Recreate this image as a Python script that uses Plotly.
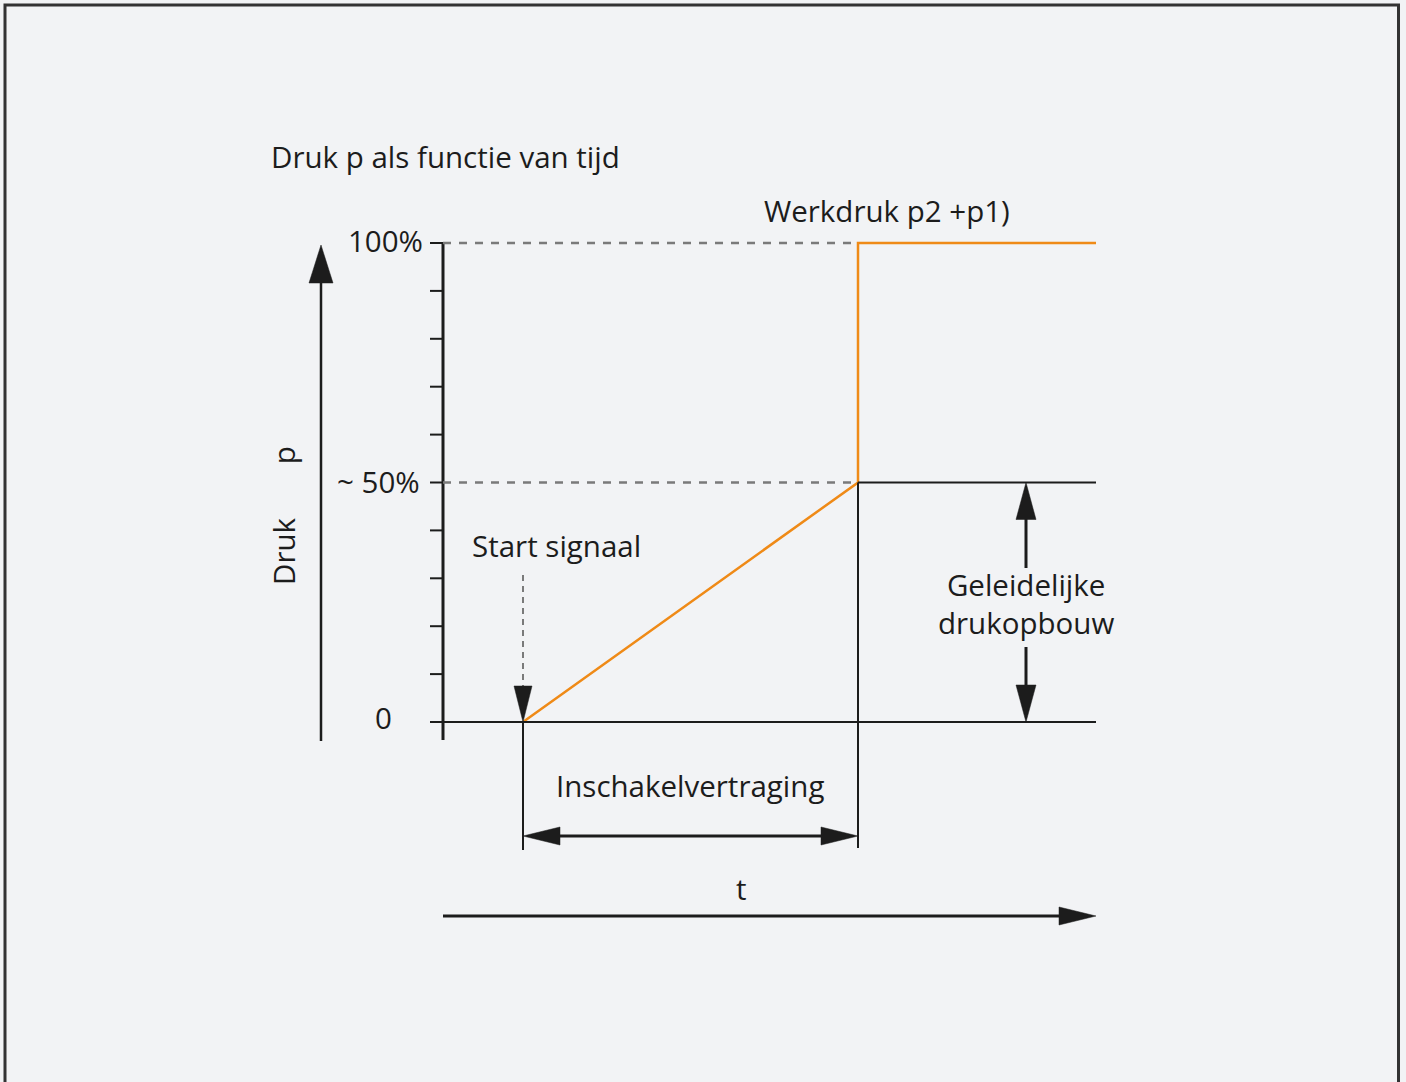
import plotly.graph_objects as go

# ---- data ----
tijd_curve = [1.0, 5.1875, 5.1875, 8.1625]     # start signaal, omschakeling, einde
druk_curve = [0, 50, 100, 100]                  # % werkdruk
tick_vals = [0, 10, 20, 30, 40, 50, 60, 70, 80, 90, 100]
tick_labels = {0: "0", 50: "~ 50%", 100: "100%"}
t_start, t_switch, t_end = 1.0, 5.1875, 8.1625

# ---- geometry (pixel scale) ----
W, H = 1406, 1082
X0PX, PXX = 443, 80.0          # t=0 at x=443, 80 px per unit
Y0PX, PXY = 722, 4.79          # p=0 at y=722, 4.79 px per %
def dx(px): return px / PXX
def dy(px): return px / PXY

INK = "#1c1c1c"
ORANGE = "#ef8a17"
GREY = "#7a7a7a"
FONT = "Open Sans"
FS = 29.5

fig = go.Figure()
shapes = []
ann = []

def line(x0, y0, x1, y1, color=INK, width=2, dash="solid"):
    shapes.append(dict(type="line", xref="x", yref="y", x0=x0, y0=y0, x1=x1, y1=y1,
                       line=dict(color=color, width=width, dash=dash)))

def head(tx, ty, direction, length=36, half=9):
    if direction == "up":
        pts = [(tx, ty), (tx - dx(half), ty - dy(length)), (tx + dx(half), ty - dy(length))]
    elif direction == "down":
        pts = [(tx, ty), (tx - dx(half), ty + dy(length)), (tx + dx(half), ty + dy(length))]
    elif direction == "left":
        pts = [(tx, ty), (tx + dx(length), ty + dy(half)), (tx + dx(length), ty - dy(half))]
    else:
        pts = [(tx, ty), (tx - dx(length), ty + dy(half)), (tx - dx(length), ty - dy(half))]
    path = "M " + " L ".join(f"{x},{y}" for x, y in pts) + " Z"
    shapes.append(dict(type="path", xref="x", yref="y", path=path,
                       fillcolor=INK, line=dict(color=INK, width=0.5)))

def text(xpx, ypx, s, xanchor="center", size=FS, angle=0):
    ann.append(dict(x=dx(xpx - X0PX), y=dy(Y0PX - ypx), xref="x", yref="y", text=s,
                    showarrow=False, xanchor=xanchor, yanchor="middle", textangle=angle,
                    font=dict(family=FONT, size=size, color=INK)))

# border
shapes.append(dict(type="rect", xref="paper", yref="paper",
                   x0=5 / W, x1=1398.5 / W, y0=-0.02, y1=1 - 5 / H,
                   line=dict(color="#333333", width=3), fillcolor="rgba(0,0,0,0)"))

# y axis line and ticks
line(0, 100, 0, -dy(18), width=3)
for v in tick_vals:
    line(-dx(13), v, 0, v, width=2)
# baseline
line(-dx(13), 0, t_end, 0, width=2)
# dashed reference lines
line(0, 100, t_switch, 100, color=GREY, width=2.5, dash="8px,8px")
line(0, 50, t_switch, 50, color=GREY, width=2.5, dash="8px,8px")
# 50% continuation
line(t_switch, 50, t_end, 50, width=2)
# vertical markers
line(t_start, 0, t_start, -dy(128), width=2)
line(t_switch, 50, t_switch, -dy(126), width=2)

# start signal dashed arrow
line(t_start, dy(147), t_start, dy(36), color=GREY, width=2, dash="6px,5px")
head(t_start, 0, "down", length=36, half=9)

# delay double arrow
ydel = -dy(836 - Y0PX)
line(t_start + dx(30), ydel, t_switch - dx(30), ydel, width=3)
head(t_start, ydel, "left", 37, 9)
head(t_switch, ydel, "right", 37, 9)

# gradual pressure double arrow
xg = dx(1026 - X0PX)
line(xg, 50 - dy(30), xg, dy(722 - 568), width=3)
line(xg, dy(722 - 647), xg, dy(30), width=3)
head(xg, 50, "up", 37, 10)
head(xg, 0, "down", 37, 10)

# left pressure arrow
xp = -dx(X0PX - 321)
line(xp, -dy(741 - Y0PX), xp, 100 - dy(30), width=2.5)
head(xp, dy(Y0PX - 245), "up", 38, 12)

# time arrow
yt = -dy(916 - Y0PX)
line(0, yt, t_end - dx(30), yt, width=3)
head(t_end, yt, "right", 37, 9)

# pressure curve
fig.add_trace(go.Scatter(x=tijd_curve, y=druk_curve, mode="lines",
                         line=dict(color=ORANGE, width=2.5), hoverinfo="skip",
                         showlegend=False))

# texts (pixel positions of label centres)
text(269, 156, "Druk p als functie van tijd", xanchor="left")
text(887, 210, "Werkdruk p2 +p1)")
text(425, 240, tick_labels[100], xanchor="right")
text(422, 481, tick_labels[50], xanchor="right")
text(383, 717, tick_labels[0])
text(470, 545, "Start signaal", xanchor="left")
text(690, 785, "Inschakelvertraging")
text(741, 888, "t")
text(1026, 603, "Geleidelijke<br>drukopbouw")
text(283, 516, "Druk       p", angle=-90)

fig.update_layout(
    width=W, height=H,
    margin=dict(l=0, r=0, t=0, b=0),
    paper_bgcolor="#f2f3f5", plot_bgcolor="#f2f3f5",
    xaxis=dict(range=[-dx(X0PX), dx(W - X0PX)], visible=False, fixedrange=True),
    yaxis=dict(range=[-dy(H - Y0PX), dy(Y0PX)], visible=False, fixedrange=True),
    shapes=shapes, annotations=ann, showlegend=False,
)
fig.write_html("out.html", config={"displayModeBar": False},
               post_script="document.body.style.margin='0px';")
